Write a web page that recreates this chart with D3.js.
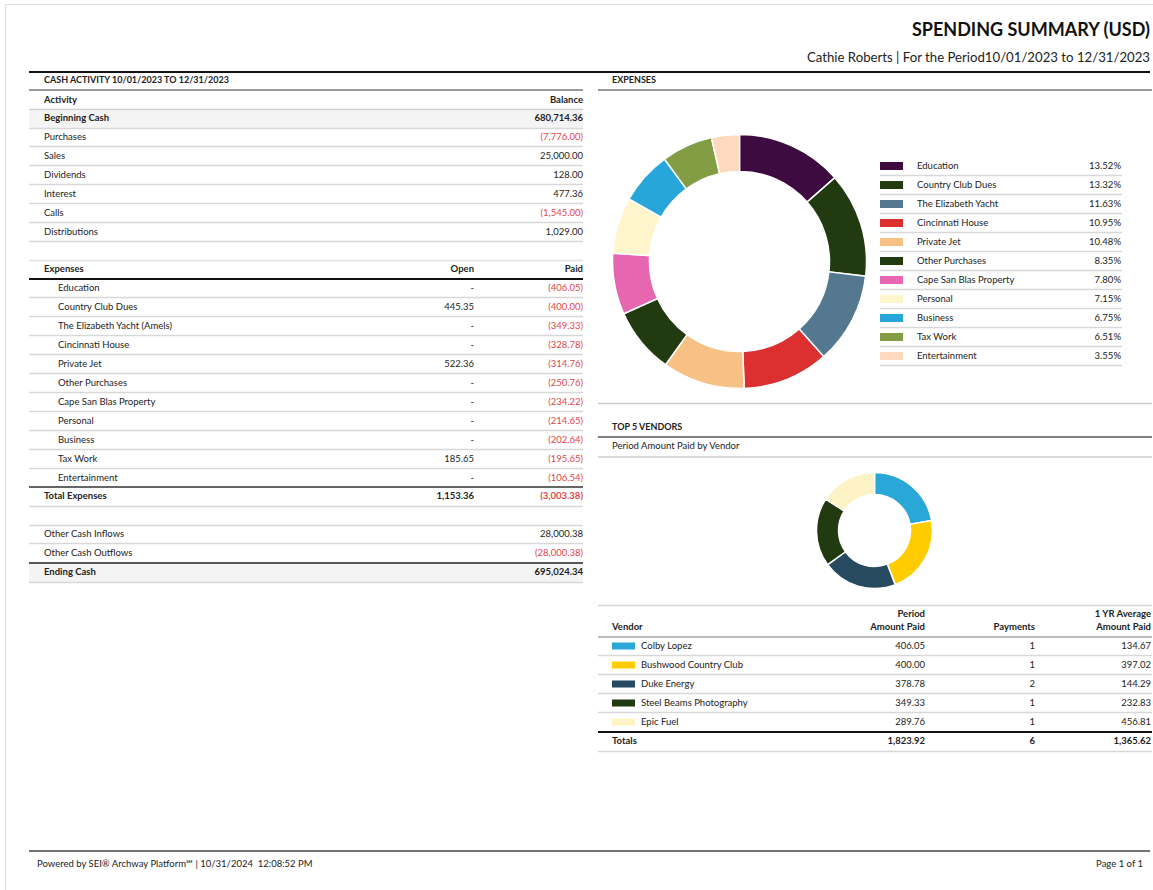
<!DOCTYPE html>
<html>
<head>
<meta charset="utf-8">
<script src="https://cdn.jsdelivr.net/npm/d3@7"></script>
<style>
  html, body { margin: 0; padding: 0; background: #fff; }
  svg { display: block; font-family: Lato, 'Open Sans', sans-serif; }
</style>
</head>
<body>
<div id="vis"></div>
<script>
// ---- data ----
var cashLabels = ["Purchases", "Sales", "Dividends", "Interest", "Calls", "Distributions"];
var cashValues = [-7776.00, 25000.00, 128.00, 477.36, -1545.00, 1029.00];
var beginningCash = 680714.36;

var expenseLabels = ["Education", "Country Club Dues", "The Elizabeth Yacht (Amels)", "Cincinnati House",
  "Private Jet", "Other Purchases", "Cape San Blas Property", "Personal", "Business", "Tax Work", "Entertainment"];
var expenseShort = ["Education", "Country Club Dues", "The Elizabeth Yacht", "Cincinnati House",
  "Private Jet", "Other Purchases", "Cape San Blas Property", "Personal", "Business", "Tax Work", "Entertainment"];
var expenseOpen = [null, 445.35, null, null, 522.36, null, null, null, null, 185.65, null];
var expensePaid = [406.05, 400.00, 349.33, 328.78, 314.76, 250.76, 234.22, 214.65, 202.64, 195.65, 106.54];
var expenseColors = ["#3d0b3f", "#213a10", "#557891", "#dc3030", "#f7c085", "#213a10",
  "#e666b0", "#fef5cc", "#26a6d9", "#839d45", "#fed9bd"];

var otherLabels = ["Other Cash Inflows", "Other Cash Outflows"];
var otherValues = [28000.38, -28000.38];
var endingCash = 695024.34;

var vendorNames = ["Colby Lopez", "Bushwood Country Club", "Duke Energy", "Steel Beams Photography", "Epic Fuel"];
var vendorPaid = [406.05, 400.00, 378.78, 349.33, 289.76];
var vendorPayments = [1, 1, 2, 1, 1];
var vendorAvg = [134.67, 397.02, 144.29, 232.83, 456.81];
var vendorColors = ["#29a8d8", "#fecc00", "#274a60", "#213a10", "#fef3c4"];

// ---- helpers ----
var fmt = d3.format(",.2f");
function money(v) { return v < 0 ? "(" + fmt(-v) + ")" : fmt(v); }

var W = 1153, H = 890;
var svg = d3.select("#vis").append("svg").attr("width", W).attr("height", H);

// page frame
svg.append("path").attr("d", "M5.5," + H + "V4.5H" + W).attr("fill", "none").attr("stroke", "#dcdcdc");

function hline(y, x1, x2, color, w) {
  svg.append("line").attr("x1", x1).attr("x2", x2).attr("y1", y).attr("y2", y)
    .attr("stroke", color).attr("stroke-width", w);
}
function txt(x, y, s, opts) {
  opts = opts || {};
  return svg.append("text").attr("x", x).attr("y", y + 3.3)
    .attr("font-size", opts.size || 10)
    .attr("text-anchor", opts.anchor || "start")
    .attr("font-weight", opts.bold ? 700 : 400)
    .attr("fill", opts.color || (opts.neg ? "#e0474c" : "#222"))
    .text(s);
}

// ---- header ----
svg.append("text").attr("x", 1150).attr("y", 36).attr("text-anchor", "end")
  .attr("font-size", 18).attr("font-weight", 700).attr("fill", "#111").text("SPENDING SUMMARY (USD)");
svg.append("text").attr("x", 1150).attr("y", 62).attr("text-anchor", "end")
  .attr("font-size", 13.2).attr("fill", "#222").text("Cathie Roberts | For the Period10/01/2023 to 12/31/2023");
hline(72, 29, 1150, "#111", 2);

// ---- left: cash activity ----
var L0 = 29, L1 = 583, openX = 474;
var rowY = d3.scaleLinear().domain([0, 1]).range([0, 19]); // row index -> offset

txt(44, 80, "CASH ACTIVITY 10/01/2023 TO 12/31/2023", { bold: true, size: 9 });
hline(90, L0, L1, "#777", 1.5);
txt(44, 100, "Activity", { bold: true, size: 9.5 });
txt(L1, 100, "Balance", { bold: true, size: 9.5, anchor: "end" });
hline(109.5, L0, L1, "#ccc", 1.5);

svg.append("rect").attr("x", L0).attr("y", 110).attr("width", L1 - L0).attr("height", 18).attr("fill", "#f4f4f4");
txt(44, 118, "Beginning Cash", { bold: true, size: 9.5 });
txt(L1, 118, fmt(beginningCash), { bold: true, size: 9.5, anchor: "end" });
hline(128.5, L0, L1, "#d8d8d8", 1.5);

cashLabels.forEach(function (d, i) {
  var cy = 137 + rowY(i);
  txt(44, cy, d, { size: 9.5 });
  txt(L1, cy, money(cashValues[i]), { size: 9.5, anchor: "end", neg: cashValues[i] < 0 });
  hline(cy + 9.5, L0, L1, "#d8d8d8", 1.5);
});

// expenses block
hline(260.5, L0, L1, "#e2e2e2", 1.5);
txt(44, 269, "Expenses", { bold: true, size: 9.5 });
txt(openX, 269, "Open", { bold: true, size: 9.5, anchor: "end" });
txt(L1, 269, "Paid", { bold: true, size: 9.5, anchor: "end" });
hline(279, L0, L1, "#111", 2);

expenseLabels.forEach(function (d, i) {
  var cy = 288 + rowY(i);
  txt(58, cy, d, { size: 9.5 });
  txt(openX, cy, expenseOpen[i] == null ? "-" : fmt(expenseOpen[i]), { size: 9.5, anchor: "end" });
  txt(L1, cy, money(-expensePaid[i]), { size: 9.5, anchor: "end", neg: true });
  if (i < expenseLabels.length - 1) hline(cy + 9.5, L0, L1, "#d8d8d8", 1.5);
});
hline(487, L0, L1, "#666", 2);
var totalOpen = d3.sum(expenseOpen.filter(function (d) { return d != null; }));
var totalPaid = d3.sum(expensePaid);
txt(44, 496, "Total Expenses", { bold: true, size: 9.5 });
txt(openX, 496, fmt(totalOpen), { bold: true, size: 9.5, anchor: "end" });
txt(L1, 496, money(-totalPaid), { bold: true, size: 9.5, anchor: "end", neg: true });
hline(506.5, L0, L1, "#d8d8d8", 1.5);

hline(525.5, L0, L1, "#d8d8d8", 1.5);
otherLabels.forEach(function (d, i) {
  var cy = 534 + rowY(i);
  txt(44, cy, d, { size: 9.5 });
  txt(L1, cy, money(otherValues[i]), { size: 9.5, anchor: "end", neg: otherValues[i] < 0 });
  if (i === 0) hline(cy + 9.5, L0, L1, "#d8d8d8", 1.5);
});
svg.append("rect").attr("x", L0).attr("y", 563).attr("width", L1 - L0).attr("height", 19).attr("fill", "#f4f4f4");
hline(563, L0, L1, "#222", 1.5);
txt(44, 572, "Ending Cash", { bold: true, size: 9.5 });
txt(L1, 572, fmt(endingCash), { bold: true, size: 9.5, anchor: "end" });
hline(582.5, L0, L1, "#d8d8d8", 1.5);

// ---- right: expenses donut ----
var R0 = 598, R1 = 1152;
txt(612, 80, "EXPENSES", { bold: true, size: 9 });
hline(90, R0, R1, "#777", 1.5);

var pie = d3.pie().sort(null).value(function (d) { return d; });
var bigArc = d3.arc().innerRadius(90).outerRadius(127);
var g1 = svg.append("g").attr("transform", "translate(739.5,261.5)");
g1.selectAll("path").data(pie(expensePaid)).join("path")
  .attr("d", bigArc)
  .attr("fill", function (d, i) { return expenseColors[i]; })
  .attr("stroke", "#fff").attr("stroke-width", 1.5);

var legendY = d3.scaleLinear().domain([0, 1]).range([166, 185]);
var leg = svg.append("g");
expenseShort.forEach(function (d, i) {
  var cy = legendY(i);
  leg.append("rect").attr("x", 880).attr("y", cy - 4).attr("width", 23).attr("height", 8).attr("fill", expenseColors[i]);
  txt(917, cy, d, { size: 9.5 });
  txt(1121, cy, d3.format(".2%")(expensePaid[i] / totalPaid), { size: 9.5, anchor: "end" });
  hline(cy + 9.5, 880, 1122, "#d8d8d8", 1.5);
});

hline(403.5, R0, R1, "#ccc", 1.5);

// ---- top 5 vendors ----
txt(612, 427, "TOP 5 VENDORS", { bold: true, size: 9 });
hline(437, R0, R1, "#555", 1.5);
txt(612, 446, "Period Amount Paid by Vendor", { size: 9.5 });
hline(457, R0, R1, "#ccc", 1.5);

var smallArc = d3.arc().innerRadius(36).outerRadius(58);
var g2 = svg.append("g").attr("transform", "translate(874.5,530.5)");
g2.selectAll("path").data(pie(vendorPaid)).join("path")
  .attr("d", smallArc)
  .attr("fill", function (d, i) { return vendorColors[i]; })
  .attr("stroke", "#fff").attr("stroke-width", 1.5);

hline(605.5, R0, R1, "#d8d8d8", 1.5);
var colPaid = 925, colPay = 1035, colAvg = 1151;
txt(612, 627, "Vendor", { bold: true, size: 9.5 });
txt(colPaid, 614, "Period", { bold: true, size: 9.5, anchor: "end" });
txt(colPaid, 627, "Amount Paid", { bold: true, size: 9.5, anchor: "end" });
txt(colPay, 627, "Payments", { bold: true, size: 9.5, anchor: "end" });
txt(colAvg, 614, "1 YR Average", { bold: true, size: 9.5, anchor: "end" });
txt(colAvg, 627, "Amount Paid", { bold: true, size: 9.5, anchor: "end" });
hline(637, R0, R1, "#bbb", 2);

var vY = d3.scaleLinear().domain([0, 1]).range([646, 665]);
vendorNames.forEach(function (d, i) {
  var cy = vY(i);
  svg.append("rect").attr("x", 612).attr("y", cy - 3.5).attr("width", 23).attr("height", 7).attr("fill", vendorColors[i]);
  txt(641, cy, d, { size: 9.5 });
  txt(colPaid, cy, fmt(vendorPaid[i]), { size: 9.5, anchor: "end" });
  txt(colPay, cy, vendorPayments[i], { size: 9.5, anchor: "end" });
  txt(colAvg, cy, fmt(vendorAvg[i]), { size: 9.5, anchor: "end" });
  if (i < vendorNames.length - 1) hline(cy + 9.5, R0, R1, "#d8d8d8", 1.5);
});
hline(732, R0, R1, "#111", 2);
txt(612, 741, "Totals", { bold: true, size: 9.5 });
txt(colPaid, 741, fmt(d3.sum(vendorPaid)), { bold: true, size: 9.5, anchor: "end" });
txt(colPay, 741, d3.sum(vendorPayments), { bold: true, size: 9.5, anchor: "end" });
txt(colAvg, 741, fmt(1365.62), { bold: true, size: 9.5, anchor: "end" });
hline(751.5, R0, R1, "#d8d8d8", 1.5);

// ---- footer ----
hline(851, 29, 1150, "#444", 1.5);
txt(37, 864, "Powered by SEI\u00AE Archway Platform\u2120 | 10/31/2024  12:08:52 PM", { size: 9.5 }).attr("xml:space", "preserve");
txt(1143, 864, "Page 1 of 1", { size: 9.5, anchor: "end" });
</script>
</body>
</html>
